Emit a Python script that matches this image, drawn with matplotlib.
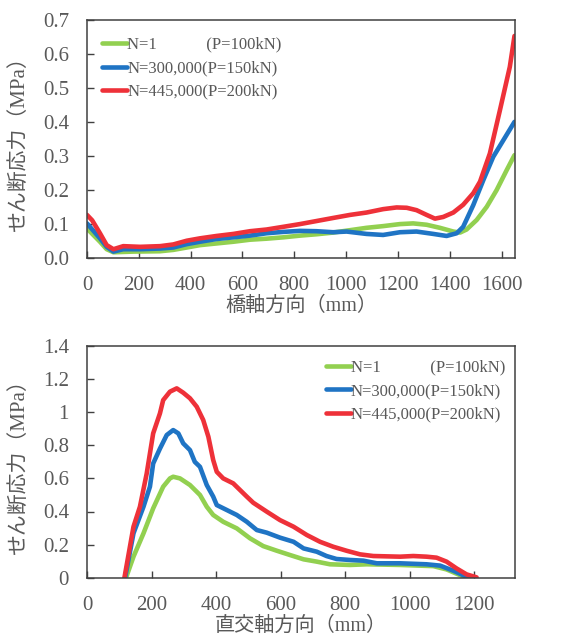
import matplotlib
matplotlib.use("Agg")
import matplotlib.pyplot as plt
from matplotlib.ticker import FormatStrFormatter, FuncFormatter
import numpy as np

# ---------------- Data: top chart (橋軸方向) ----------------
top_red_x = [0, 20, 50, 76, 102, 140, 205, 282, 333, 385, 436, 500, 565, 629, 693, 758,
             822, 886, 950, 1015, 1079, 1143, 1195, 1234, 1272, 1311, 1343, 1375, 1414,
             1452, 1491, 1517, 1555, 1594, 1632, 1650]
top_red_y = [0.126, 0.110, 0.072, 0.037, 0.025, 0.034, 0.032, 0.034, 0.039, 0.050, 0.057,
             0.064, 0.070, 0.078, 0.083, 0.091, 0.099, 0.108, 0.117, 0.126, 0.133, 0.143,
             0.148, 0.147, 0.140, 0.126, 0.115, 0.120, 0.133, 0.156, 0.190, 0.224, 0.307,
             0.435, 0.562, 0.653]

top_blue_x = [0, 50, 76, 102, 140, 205, 282, 333, 385, 436, 500, 565, 629, 693, 758, 822,
              886, 950, 1002, 1079, 1143, 1208, 1272, 1337, 1388, 1427, 1452, 1491, 1530,
              1568, 1607, 1650]
top_blue_y = [0.101, 0.057, 0.032, 0.018, 0.025, 0.025, 0.027, 0.030, 0.040, 0.047, 0.055,
              0.060, 0.065, 0.072, 0.076, 0.079, 0.078, 0.075, 0.077, 0.070, 0.067, 0.075,
              0.077, 0.070, 0.064, 0.072, 0.091, 0.155, 0.229, 0.297, 0.346, 0.400]

top_green_x = [0, 50, 76, 102, 180, 282, 333, 385, 436, 500, 565, 629, 693, 758, 822, 886,
               950, 1015, 1079, 1143, 1208, 1259, 1311, 1362, 1414, 1440, 1465, 1504, 1543,
               1581, 1620, 1650]
top_green_y = [0.086, 0.047, 0.025, 0.016, 0.018, 0.019, 0.023, 0.030, 0.037, 0.042, 0.047,
               0.053, 0.056, 0.060, 0.065, 0.069, 0.074, 0.081, 0.088, 0.093, 0.099, 0.101,
               0.097, 0.088, 0.077, 0.074, 0.083, 0.111, 0.150, 0.199, 0.258, 0.302]

# ---------------- Data: bottom chart (直交軸方向) ----------------
bot_red_x = [116, 144, 164, 185, 205, 226, 236, 257, 278, 298, 319, 340, 360, 376, 391, 402,
             422, 453, 474, 495, 515, 557, 598, 640, 681, 722, 763, 804, 846, 887, 928, 970,
             1011, 1052, 1083, 1114, 1145, 1176, 1207]
bot_red_y = [0.0, 0.308, 0.429, 0.630, 0.872, 0.993, 1.073, 1.124, 1.144, 1.118, 1.084, 1.033,
             0.953, 0.852, 0.711, 0.640, 0.600, 0.570, 0.530, 0.490, 0.453, 0.399, 0.348,
             0.308, 0.258, 0.217, 0.187, 0.163, 0.141, 0.131, 0.129, 0.127, 0.131, 0.127,
             0.121, 0.097, 0.056, 0.020, 0.002]

bot_blue_x = [118, 144, 175, 195, 205, 226, 247, 267, 283, 298, 319, 334, 350, 371, 391, 402,
              433, 464, 495, 526, 557, 598, 640, 671, 712, 742, 773, 815, 856, 898, 970, 1052,
              1094, 1135, 1176, 1186]
bot_blue_y = [0.0, 0.268, 0.429, 0.550, 0.690, 0.780, 0.862, 0.892, 0.872, 0.812, 0.771, 0.700,
              0.670, 0.560, 0.490, 0.439, 0.409, 0.379, 0.338, 0.288, 0.272, 0.242, 0.217,
              0.177, 0.157, 0.131, 0.113, 0.107, 0.103, 0.087, 0.087, 0.081, 0.073, 0.042,
              0.006, 0.0]

bot_green_x = [121, 144, 175, 205, 236, 257, 267, 288, 319, 350, 371, 391, 422, 464, 505, 546,
               588, 629, 671, 712, 753, 815, 867, 970, 1073, 1114, 1155, 1176]
bot_green_y = [0.0, 0.127, 0.268, 0.419, 0.550, 0.600, 0.610, 0.600, 0.560, 0.500, 0.429,
               0.379, 0.338, 0.298, 0.238, 0.191, 0.163, 0.137, 0.111, 0.097, 0.081, 0.077,
               0.081, 0.077, 0.070, 0.050, 0.016, 0.0]

labels = ["N=1            (P=100kN)", "N=300,000(P=150kN)", "N=445,000(P=200kN)"]
colors = ["#92D050", "#1F74C4", "#EE3139"]

top_xlabel = "橋軸方向（mm）"
bot_xlabel = "直交軸方向（mm）"
ylabel = "せん断応力（MPa）"

top_xticks = [0, 200, 400, 600, 800, 1000, 1200, 1400, 1600]
top_yticks = [0.0, 0.1, 0.2, 0.3, 0.4, 0.5, 0.6, 0.7]
bot_xticks = [0, 200, 400, 600, 800, 1000, 1200]
bot_yticks = [0, 0.2, 0.4, 0.6, 0.8, 1.0, 1.2, 1.4]

# ---------------- Plot ----------------
W, H = 565, 642
fig = plt.figure(figsize=(W / 100, H / 100), dpi=100)

txt_color = "#595959"
serif = ["Liberation Serif", "DejaVu Serif"]
lab_family = ["Liberation Serif", "Noto Sans CJK JP", "DejaVu Sans"]


def style_axes(ax, xticks, yticks, xlim, ylim, yfmt):
    ax.set_xlim(*xlim)
    ax.set_ylim(*ylim)
    ax.set_xticks(xticks)
    ax.set_yticks(yticks)
    ax.yaxis.set_major_formatter(yfmt)
    ax.tick_params(direction="in", length=5, width=1, colors="#404040",
                   labelcolor=txt_color, labelsize=15)
    ax.tick_params(axis="x", pad=13)
    ax.tick_params(axis="y", pad=13)
    for lab in ax.get_xticklabels() + ax.get_yticklabels():
        lab.set_family(serif)
    for s in ax.spines.values():
        s.set_color("#404040")
        s.set_linewidth(1.1)


def add_legend(ax, loc, anchor):
    leg = ax.legend(loc=loc, bbox_to_anchor=anchor, frameon=False,
                    prop={"family": serif, "size": 12}, handlelength=1.5,
                    handletextpad=0.0, labelspacing=0.45, borderaxespad=0)
    for t in leg.get_texts():
        t.set_color(txt_color)
    return leg


# top axes
ax1 = fig.add_axes([87 / W, 1 - 257.7 / H, 428 / W, 237.7 / H])
for xs, ys, c, lab in [(top_green_x, top_green_y, colors[0], labels[0]),
                       (top_blue_x, top_blue_y, colors[1], labels[1]),
                       (top_red_x, top_red_y, colors[2], labels[2])]:
    ax1.plot(xs, ys, color=c, lw=3.3, label=lab, solid_capstyle="round",
             solid_joinstyle="round")
style_axes(ax1, top_xticks, top_yticks, (0, 1652), (0, 0.7), FormatStrFormatter("%.1f"))
ax1.set_xlabel(top_xlabel, family=lab_family, fontsize=14.5, color=txt_color, labelpad=1)
ax1.set_ylabel(ylabel, family=lab_family, fontsize=15, color=txt_color, labelpad=9)
add_legend(ax1, "upper left", (0.02, 0.957))

# bottom axes
ax2 = fig.add_axes([87 / W, 1 - 577.7 / H, 428 / W, 231.7 / H])
for xs, ys, c, lab in [(bot_green_x, bot_green_y, colors[0], labels[0]),
                       (bot_blue_x, bot_blue_y, colors[1], labels[1]),
                       (bot_red_x, bot_red_y, colors[2], labels[2])]:
    ax2.plot(xs, ys, color=c, lw=3.3, label=lab, solid_capstyle="round",
             solid_joinstyle="round")
style_axes(ax2, bot_xticks, bot_yticks, (0, 1326), (0, 1.4),
           FuncFormatter(lambda v, p: "%g" % round(v, 2)))
ax2.set_xlabel(bot_xlabel, family=lab_family, fontsize=14.5, color=txt_color, labelpad=1)
ax2.set_ylabel(ylabel, family=lab_family, fontsize=15, color=txt_color, labelpad=9)
add_legend(ax2, "upper right", (0.993, 0.97))

fig.savefig("out.png", dpi=100)
